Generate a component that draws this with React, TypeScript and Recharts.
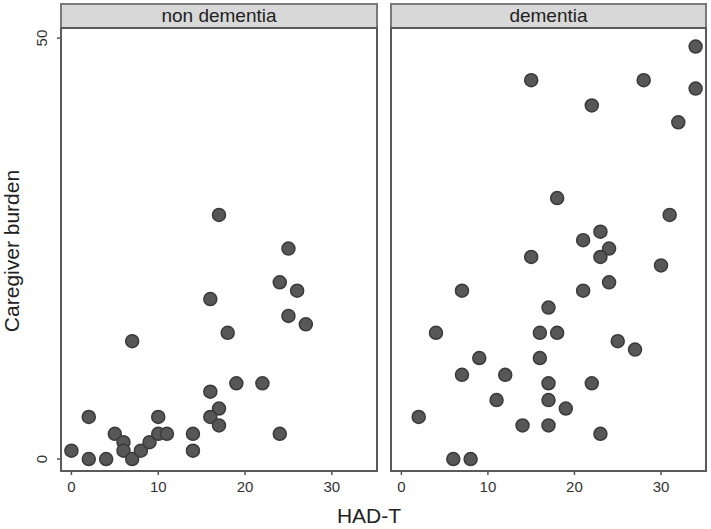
import { Scatter, ScatterChart, XAxis, YAxis } from 'recharts';

const FONT = '"Liberation Sans", Arial, sans-serif';

const nonDementiaHad = [0, 2, 2, 4, 5, 6, 6, 7, 8, 9, 10, 11, 10, 14, 14, 7, 16, 18, 16, 17, 16, 17, 19, 22, 24, 24, 26, 25, 27, 25, 17];
const nonDementiaBurden = [1, 5, 0, 0, 3, 2, 1, 0, 1, 2, 3, 3, 5, 3, 1, 14, 19, 15, 8, 6, 5, 4, 9, 9, 3, 21, 20, 17, 16, 25, 29];

const dementiaHad = [2, 6, 8, 4, 7, 7, 9, 12, 11, 14, 16, 16, 17, 18, 17, 17, 17, 19, 21, 22, 23, 24, 25, 27, 30, 34, 15, 28, 34, 22, 32, 18, 31, 23, 21, 24, 23, 15];
const dementiaBurden = [5, 0, 0, 15, 20, 10, 12, 10, 7, 4, 15, 12, 18, 15, 9, 7, 4, 6, 20, 9, 3, 21, 14, 13, 23, 49, 45, 45, 44, 42, 40, 31, 29, 27, 26, 25, 24, 24];

const xTicks = [0, 10, 20, 30];
const yTicks = [0, 50];
const panels = ['non dementia', 'dementia'];

const toPoints = (xs: number[], ys: number[]) => xs.map((x, i) => ({ had: x, burden: ys[i] }));

const Dot = (p: any) => <circle cx={p.cx} cy={p.cy} r={6.5} fill="#575757" stroke="#3a3a3a" strokeWidth={1.5} />;

const YTick = (p: any) => (
  <text
    x={p.x - 8}
    y={p.y}
    transform={`rotate(-90 ${p.x - 8} ${p.y})`}
    textAnchor="middle"
    fontSize={15}
    fill="#333"
    fontFamily={FONT}
  >
    {p.payload.value}
  </text>
);

function Panel({ data, showY, width, marginRight }: { data: any[]; showY: boolean; width: number; marginRight: number }) {
  return (
    <ScatterChart width={width} height={500} margin={{ top: 28, right: marginRight, left: 0, bottom: 0 }}>
      <XAxis
        type="number"
        dataKey="had"
        domain={[-1.2, 35.2]}
        allowDataOverflow
        ticks={xTicks}
        height={30}
        tickSize={5}
        tickMargin={6}
        axisLine={false}
        tickLine={{ stroke: '#555', strokeWidth: 1.5 }}
        tick={{ fill: '#333', fontSize: 15, fontFamily: FONT }}
      />
      <YAxis
        type="number"
        dataKey="burden"
        domain={[-1.3, 51.2]}
        allowDataOverflow
        ticks={yTicks}
        width={showY ? 61 : 11}
        tickSize={showY ? 4 : 0}
        tickMargin={2}
        axisLine={false}
        tickLine={showY ? { stroke: '#555', strokeWidth: 1.5 } : false}
        tick={showY ? <YTick /> : false}
      />
      <Scatter data={data} shape={Dot} isAnimationActive={false} />
    </ScatterChart>
  );
}

export default function App() {
  const boxes = [
    { left: 61, width: 316, label: panels[0] },
    { left: 391, width: 315, label: panels[1] },
  ];
  return (
    <div style={{ position: 'absolute', left: 0, top: 0, width: 711, height: 529, background: '#fff', fontFamily: FONT }}>
      <div style={{ position: 'absolute', left: 0, top: 0 }}>
        <Panel data={toPoints(nonDementiaHad, nonDementiaBurden)} showY width={380} marginRight={3} />
      </div>
      <div style={{ position: 'absolute', left: 380, top: 0 }}>
        <Panel data={toPoints(dementiaHad, dementiaBurden)} showY={false} width={331} marginRight={5} />
      </div>
      {boxes.map((b) => (
        <div key={b.label}>
          <div
            style={{
              position: 'absolute',
              left: b.left - 1,
              top: 3,
              width: b.width + 2,
              height: 26,
              boxSizing: 'border-box',
              background: '#d8d8d8',
              border: '2px solid #7a7a7a',
              textAlign: 'center',
              fontSize: 19,
              lineHeight: '22px',
              color: '#222',
            }}
          >
            {b.label}
          </div>
          <div
            style={{
              position: 'absolute',
              left: b.left - 1,
              top: 27,
              width: b.width + 2,
              height: 445,
              boxSizing: 'border-box',
              border: '2px solid #5a5a5a',
              pointerEvents: 'none',
            }}
          />
        </div>
      ))}
      <div
        style={{
          position: 'absolute',
          left: 12,
          top: 251,
          transform: 'translate(-50%, -50%) rotate(-90deg)',
          whiteSpace: 'nowrap',
          fontSize: 21,
          color: '#222',
        }}
      >
        Caregiver burden
      </div>
      <div
        style={{
          position: 'absolute',
          left: 369,
          top: 516,
          transform: 'translate(-50%, -50%)',
          whiteSpace: 'nowrap',
          fontSize: 21,
          color: '#222',
        }}
      >
        HAD-T
      </div>
    </div>
  );
}
